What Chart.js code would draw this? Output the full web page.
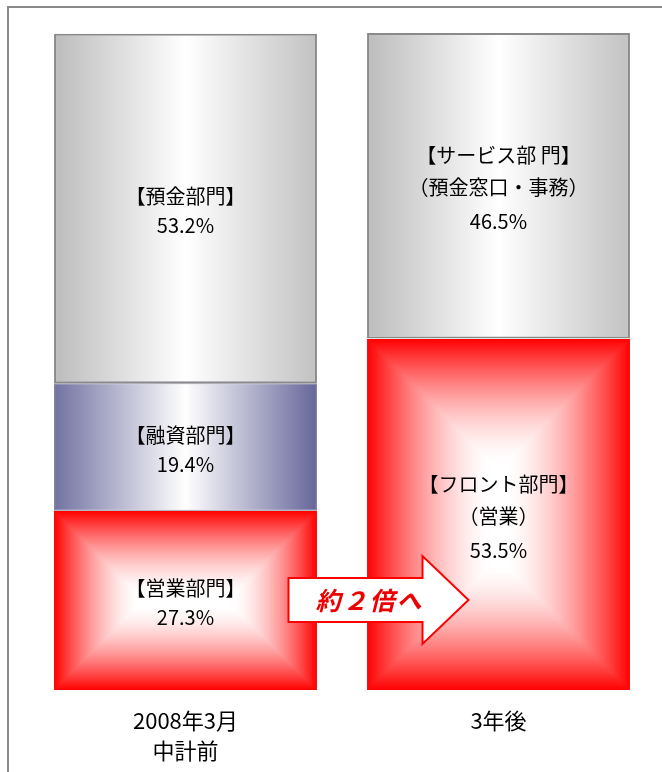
<!DOCTYPE html>
<html>
<head>
<meta charset="utf-8">
<script src="https://cdn.jsdelivr.net/npm/chart.js@4.4.1/dist/chart.umd.min.js"></script>
<style>
  html, body { margin: 0; padding: 0; background: #fff; }
  #wrap { width: 662px; height: 772px; position: relative; }
</style>
</head>
<body>
<div id="wrap"><canvas id="share"></canvas></div>
<script>
const categories = [['2008年3月', '中計前'], ['3年後']];

// shares per division, bottom to top
const salesShare = [27.3, 53.5];
const loanShare = [19.4, null];
const depositShare = [53.2, 46.5];

const salesNames = [['【営業部門】'], ['【フロント部門】', '（営業）']];
const loanNames = [['【融資部門】'], []];
const depositNames = [['【預金部門】'], ['【サービス部 門】', '（預金窓口・事務）']];

const arrowText = '約２倍へ';
const FONT = '"Noto Sans CJK JP", "Noto Sans", sans-serif';

// red "from the centre" fill: pure red at the edges, white in the middle
function boxFill(w, h) {
    const c = document.createElement('canvas');
    c.width = w; c.height = h;
    const g = c.getContext('2d');
    const img = g.createImageData(w, h);
    const reach = Math.min(w, h) / 2 * 0.95;
    for (let y = 0; y < h; y++) {
        for (let x = 0; x < w; x++) {
            const d = Math.min(x + 0.5, w - x - 0.5, y + 0.5, h - y - 0.5);
            const t = Math.min(1, d / reach);
            const f = 1 - Math.pow(1 - t, 1.6);
            const i = (y * w + x) * 4;
            img.data[i] = 255;
            img.data[i + 1] = Math.round(255 * f);
            img.data[i + 2] = Math.round(255 * f);
            img.data[i + 3] = 255;
        }
    }
    g.putImageData(img, 0, 0);
    return c;
}

// each bar gets its own fill, placed on its own rectangle
const fills = {
    id: 'fills',
    beforeDatasetsDraw(chart) {
        const ctx = chart.ctx;
        chart.data.datasets.forEach((ds, di) => {
            const meta = chart.getDatasetMeta(di);
            meta.data.forEach(bar => {
                if (bar.y == null || isNaN(bar.y)) return;
                const left = Math.round(bar.x - bar.width / 2);
                const right = Math.round(bar.x + bar.width / 2);
                const top = Math.round(Math.min(bar.y, bar.base));
                const bottom = Math.round(Math.max(bar.y, bar.base));
                if (ds.fillKind === 'box') {
                    const w = right - left, h = bottom - top;
                    if (w <= 0 || h <= 0) return;
                    const pat = ctx.createPattern(boxFill(w, h), 'no-repeat');
                    pat.setTransform(new DOMMatrix().translate(left, top));
                    bar.options.backgroundColor = pat;
                } else {
                    const gr = ctx.createLinearGradient(left, 0, right, 0);
                    const [edgeL, mid, edgeR] = ds.fillStops;
                    gr.addColorStop(0, edgeL);
                    gr.addColorStop(0.5, mid);
                    gr.addColorStop(1, edgeR);
                    bar.options.backgroundColor = gr;
                }
            });
        });
    }
};

const frame = {
    id: 'frame',
    beforeDraw(chart) {
        const ctx = chart.ctx;
        ctx.save();
        ctx.strokeStyle = '#8a8a8a';
        ctx.lineWidth = 2;
        ctx.strokeRect(8, 7, 720, 820);
        ctx.restore();
    }
};

const labels = {
    id: 'labels',
    afterDatasetsDraw(chart) {
        const ctx = chart.ctx;
        const xs = chart.scales.x;
        const ys = chart.scales.y;
        ctx.save();
        ctx.fillStyle = '#000';
        ctx.textAlign = 'center';
        ctx.textBaseline = 'middle';
        ctx.font = '20px ' + FONT;

        chart.data.datasets.forEach((ds, di) => {
            const meta = chart.getDatasetMeta(di);
            meta.data.forEach((bar, i) => {
                const v = ds.data[i];
                if (v == null) return;
                const cy = (bar.y + bar.base) / 2;
                const lines = ds.names[i].concat([v.toFixed(1) + '%']);
                const offs = lines.length === 3 ? [-30, 2, 36] : [-12, 17];
                lines.forEach((s, k) => ctx.fillText(s, bar.x, cy + offs[k]));
            });
        });

        // category captions under the bars
        ctx.font = '22px ' + FONT;
        categories.forEach((cat, i) => {
            const x = xs.getPixelForValue(i);
            cat.forEach((s, k) => ctx.fillText(s, x, ys.bottom + 31 + k * 30));
        });

        // arrow between the two bars
        const x0 = xs.getPixelForValue(0) + 103;
        const x1 = xs.getPixelForValue(1) - 30;
        const cy = ys.getPixelForValue(13.7);
        const headW = 46, bodyH = 22, headH = 44;
        ctx.beginPath();
        ctx.moveTo(x0, cy - bodyH);
        ctx.lineTo(x1 - headW, cy - bodyH);
        ctx.lineTo(x1 - headW, cy - headH);
        ctx.lineTo(x1, cy);
        ctx.lineTo(x1 - headW, cy + headH);
        ctx.lineTo(x1 - headW, cy + bodyH);
        ctx.lineTo(x0, cy + bodyH);
        ctx.closePath();
        ctx.fillStyle = '#fff';
        ctx.fill();
        ctx.strokeStyle = '#ff0000';
        ctx.lineWidth = 2;
        ctx.stroke();

        ctx.fillStyle = '#ee0000';
        ctx.font = 'italic bold 25px ' + FONT;
        ctx.letterSpacing = '2px';
        ctx.fillText(arrowText, x0 + 81, cy + 1);
        ctx.restore();
    }
};

// scriptable colour keeps every bar's options separate, so each can hold its own fill
const placeholder = c => c.dataset.plainColor;

new Chart(document.getElementById('share'), {
    type: 'bar',
    data: {
        labels: categories,
        datasets: [
            {
                data: salesShare, names: salesNames, fillKind: 'box',
                plainColor: '#ff0000', backgroundColor: placeholder, borderWidth: 0
            },
            {
                data: loanShare, names: loanNames,
                fillStops: ['#7272a2', '#ffffff', '#66669a'],
                plainColor: '#9999bb', backgroundColor: placeholder,
                borderColor: '#7c7c8c', borderWidth: 1, borderSkipped: false
            },
            {
                data: depositShare, names: depositNames,
                fillStops: ['#bcbcbc', '#ffffff', '#c2c2c2'],
                plainColor: '#dddddd', backgroundColor: placeholder,
                borderColor: '#8a8a8a', borderWidth: 2, borderSkipped: false
            }
        ]
    },
    options: {
        responsive: true,
        maintainAspectRatio: false,
        animation: false,
        events: [],
        layout: { padding: { left: 29, right: 7, top: 33, bottom: 82 } },
        datasets: { bar: { categoryPercentage: 1, barPercentage: 0.84 } },
        scales: {
            x: { stacked: true, display: false },
            y: { stacked: true, display: false, min: 0, max: 100 }
        },
        plugins: {
            legend: { display: false },
            tooltip: { enabled: false }
        }
    },
    plugins: [frame, fills, labels]
});
</script>
</body>
</html>
